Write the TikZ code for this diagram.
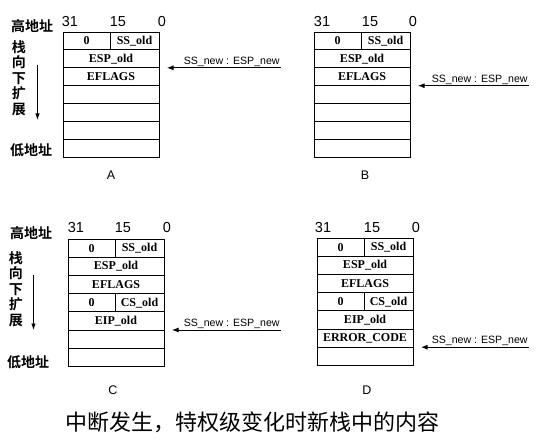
\documentclass[tikz,border=0pt]{standalone}
\usepackage{fontspec}
\setmainfont{Liberation Serif}
\setsansfont{Liberation Sans}
\newfontfamily\cjk{Noto Sans CJK SC}[BoldFont={Noto Sans CJK SC Bold}]
\usetikzlibrary{arrows.meta,positioning}

\begin{document}
\begin{tikzpicture}[x=1pt, y=-1pt,
    cell/.style={draw, line width=0.9pt, outer sep=0pt, inner sep=0pt,
                 minimum width=96pt, minimum height=17.9pt,
                 font=\fontsize{12}{12}\selectfont\bfseries},
    halfl/.style={cell, minimum width=47pt},
    halfr/.style={cell, minimum width=49pt},
    bits/.style={font=\sffamily\fontsize{14.5}{14.5}\selectfont, inner sep=0pt},
    addr/.style={font=\cjk\bfseries\fontsize{14}{15.5}\selectfont, inner sep=0pt, align=center},
    tag/.style={font=\sffamily\fontsize{12.5}{12.5}\selectfont, inner sep=0pt},
    ptrtext/.style={font=\sffamily\fontsize{10.6}{10.6}\selectfont, inner sep=1.2pt},
    ptr/.style={-{Latex[length=6.5pt,width=5pt]}, line width=0.9pt, shorten >=8pt},
    growarrow/.style={-{Latex[length=6.5pt,width=4.5pt]}, line width=0.9pt},
]
\useasboundingbox (0,0) rectangle (540,441);

% Panel A
\node[halfl, anchor=north west] (a1l) at (63,32) {0};
\node[halfr, anchor=north west] (a1r) at (a1l.north east) {SS\_old};
\node[cell, anchor=north west] (a2) at (a1l.south west) {ESP\_old};
\node[cell, anchor=north west] (a3) at (a2.south west) {EFLAGS};
\foreach \p/\n in {3/4, 4/5, 5/6, 6/7} {
    \node[cell, anchor=north west] (a\n) at (a\p.south west) {};
}
\node[bits] (a31) at (70,22) {31};
\node[bits] (a15) at (118,22) {15};
\node[bits] (a00) at (162,22) {0};
\node[addr] (ahi) at (32,26) {高地址};
\node[addr] (adir) at (19,78) {栈\\向\\下\\扩\\展};
\node[addr] (alo) at (31,150) {低地址};
\coordinate (agtop) at (37.5,65);
\coordinate (agbot) at (37.5,120);
\draw[growarrow] (agtop) -- (agbot);
\node[tag] (atag) at (111,175) {A};
\node[ptrtext, anchor=south east] (aptr) at (281,67.8) {SS\_new : ESP\_new};
\draw[ptr] (aptr.south east) -- (aptr.south east -| a2.east);

% Panel B
\node[halfl, anchor=north west] (b1l) at (314,32) {0};
\node[halfr, anchor=north west] (b1r) at (b1l.north east) {SS\_old};
\node[cell, anchor=north west] (b2) at (b1l.south west) {ESP\_old};
\node[cell, anchor=north west] (b3) at (b2.south west) {EFLAGS};
\foreach \p/\n in {3/4, 4/5, 5/6, 6/7} {
    \node[cell, anchor=north west] (b\n) at (b\p.south west) {};
}
\node[bits] (b31) at (322,22) {31};
\node[bits] (b15) at (370,22) {15};
\node[bits] (b00) at (413,22) {0};
\node[tag] (btag) at (365,175) {B};
\node[ptrtext, anchor=south east] (bptr) at (529,85.7) {SS\_new : ESP\_new};
\draw[ptr] (bptr.south east) -- (bptr.south east -| b3.east);

\begin{scope}[cell/.append style={minimum height=18.2pt}]
% Panel C
\node[halfl, anchor=north west] (c1l) at (68,239) {0};
\node[halfr, anchor=north west] (c1r) at (c1l.north east) {SS\_old};
\node[cell, anchor=north west] (c2) at (c1l.south west) {ESP\_old};
\node[cell, anchor=north west] (c3) at (c2.south west) {EFLAGS};
\node[halfl, anchor=north west] (c4l) at (c3.south west) {0};
\node[halfr, anchor=north west] (c4r) at (c4l.north east) {CS\_old};
\node[cell, anchor=north west] (c5) at (c4l.south west) {EIP\_old};
\node[cell, anchor=north west] (c6) at (c5.south west) {};
\node[cell, anchor=north west] (c7) at (c6.south west) {};
\node[bits] (c31) at (76,228) {31};
\node[bits] (c15) at (123,228) {15};
\node[bits] (c00) at (167,228) {0};
\node[addr] (chi) at (31,233) {高地址};
\node[addr] (cdir) at (16,289) {栈\\向\\下\\扩\\展};
\node[addr] (clo) at (28,362) {低地址};
\coordinate (cgtop) at (33.5,275);
\coordinate (cgbot) at (33.5,330);
\draw[growarrow] (cgtop) -- (cgbot);
\node[tag] (ctag) at (113,390) {C};
\node[ptrtext, anchor=south east] (cptr) at (281,330) {SS\_new : ESP\_new};
\draw[ptr] (cptr.south east) -- (cptr.south east -| c5.east);

% Panel D
\node[halfl, anchor=north west] (d1l) at (317,238) {0};
\node[halfr, anchor=north west] (d1r) at (d1l.north east) {SS\_old};
\node[cell, anchor=north west] (d2) at (d1l.south west) {ESP\_old};
\node[cell, anchor=north west] (d3) at (d2.south west) {EFLAGS};
\node[halfl, anchor=north west] (d4l) at (d3.south west) {0};
\node[halfr, anchor=north west] (d4r) at (d4l.north east) {CS\_old};
\node[cell, anchor=north west] (d5) at (d4l.south west) {EIP\_old};
\node[cell, anchor=north west] (d6) at (d5.south west) {ERROR\_CODE};
\node[cell, anchor=north west] (d7) at (d6.south west) {};
\node[bits] (d31) at (323,228) {31};
\node[bits] (d15) at (372,228) {15};
\node[bits] (d00) at (416,228) {0};
\node[tag] (dtag) at (367,390) {D};
\node[ptrtext, anchor=south east] (dptr) at (529,347.2) {SS\_new : ESP\_new};
\draw[ptr] (dptr.south east) -- (dptr.south east -| d6.east);
\end{scope}

% Caption
\node[font=\cjk\fontsize{22}{22}\selectfont, inner sep=0pt] (title) at (252,422)
    {中断发生，特权级变化时新栈中的内容};

\end{tikzpicture}
\end{document}
